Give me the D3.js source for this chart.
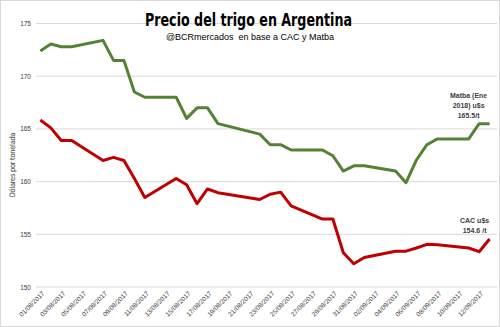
<!DOCTYPE html>
<html><head><meta charset="utf-8">
<script src="https://cdn.jsdelivr.net/npm/d3@7"></script>
<style>body{margin:0;background:#fff}svg{display:block}</style>
</head><body>
<script>
const dates = ["01/08/2017","02/08/2017","03/08/2017","04/08/2017","07/08/2017","08/08/2017","09/08/2017","10/08/2017","11/08/2017","14/08/2017","15/08/2017","16/08/2017","17/08/2017","18/08/2017","22/08/2017","23/08/2017","24/08/2017","25/08/2017","28/08/2017","29/08/2017","30/08/2017","31/08/2017","01/09/2017","04/09/2017","05/09/2017","06/09/2017","07/09/2017","08/09/2017","11/09/2017","12/09/2017","13/09/2017"];
const matba = [172.4,173.05,172.8,172.8,173.4,171.5,171.5,168.5,168.0,168.0,166.0,167.0,167.0,165.5,164.5,163.5,163.5,163.0,163.0,162.45,161.0,161.5,161.5,161.0,159.9,162.05,163.5,164.05,164.05,165.5,165.5];
const cac = [165.85,165.1,163.9,163.9,162.0,162.3,162.0,160.3,158.5,160.3,159.7,157.9,159.3,158.95,158.3,158.8,159.0,157.7,156.45,156.45,153.25,152.2,152.8,153.4,153.4,153.7,154.05,154.0,153.7,153.35,154.55];
const yTicks = [150,155,160,165,170,175];
const xTickLabels = ["01/08/2017","03/08/2017","05/08/2017","07/08/2017","09/08/2017","11/08/2017","13/08/2017","15/08/2017","17/08/2017","19/08/2017","21/08/2017","23/08/2017","25/08/2017","27/08/2017","29/08/2017","31/08/2017","02/09/2017","04/09/2017","06/09/2017","08/09/2017","10/09/2017","12/09/2017"];
const title = "Precio del trigo en Argentina";
const subtitle = "@BCRmercados  en base a CAC y Matba";
const yTitle = "Dólares por tonelada";
const matbaLabel = ["Matba (Ene","2018) u$s","165.5/t"];
const cacLabel = ["CAC u$s","154.6 /t"];

const W=500,H=327;
const parse = d3.timeParse("%d/%m/%Y");
const x = d3.scaleTime()
  .domain([d3.timeHour.offset(parse("01/08/2017"),-10), d3.timeHour.offset(parse("13/09/2017"),17)])
  .range([36,497]);
const y = d3.scaleLinear().domain([150,175]).range([287,23.5]);

const svg = d3.select("body").append("svg").attr("width",W).attr("height",H);
svg.append("rect").attr("x",0.5).attr("y",0.5).attr("width",W-1).attr("height",H-1)
  .attr("fill","#fff").attr("stroke","#d9d9d9");

// gridlines
svg.append("g").selectAll("line").data(yTicks).join("line")
  .attr("x1",36).attr("x2",497).attr("y1",d=>y(d)).attr("y2",d=>y(d))
  .attr("stroke","#d9d9d9").attr("stroke-width",1);

// y axis labels
const yAxis = d3.axisLeft(y).tickValues(yTicks).tickSize(0).tickPadding(0);
const gy = svg.append("g").attr("transform","translate(31,0)").call(yAxis);
gy.select(".domain").remove();
gy.selectAll("text").attr("font-family","Liberation Sans, Arial, sans-serif").attr("font-size",6.5).attr("fill","#404040");

// x axis labels
const xAxis = d3.axisBottom(x).tickValues(xTickLabels.map(parse)).tickSize(0).tickFormat(d3.timeFormat("%d/%m/%Y"));
const gx = svg.append("g").attr("transform","translate(0,291)").call(xAxis);
gx.select(".domain").remove();
gx.selectAll("text").attr("font-family","Liberation Sans, Arial, sans-serif").attr("font-size",6.5).attr("fill","#404040")
  .attr("text-anchor","end").attr("dy",0).attr("y",0)
  .attr("transform","translate(4,3) rotate(-45)");

// y title
svg.append("text").attr("transform","translate(15,165) rotate(-90)")
  .attr("text-anchor","middle").attr("font-family","Liberation Sans Narrow, DejaVu Sans Condensed, sans-serif")
  .attr("font-size",7.5).attr("fill","#404040").attr("letter-spacing",-0.3).text(yTitle);

const line = d3.line().x((d,i)=>x(parse(dates[i]))).y(d=>y(d)).curve(d3.curveLinear);
svg.append("path").datum(matba).attr("d",line).attr("fill","none").attr("stroke","#548235").attr("stroke-width",3).attr("stroke-linejoin","round");
svg.append("path").datum(cac).attr("d",line).attr("fill","none").attr("stroke","#c00000").attr("stroke-width",3).attr("stroke-linejoin","round");

// title
svg.append("text").attr("x",248.5).attr("y",26).attr("text-anchor","middle")
  .attr("font-family","Liberation Sans Narrow, DejaVu Sans Condensed, sans-serif").attr("font-weight","bold")
  .attr("font-size",18).attr("fill","#000")
  .attr("textLength",207).attr("lengthAdjust","spacingAndGlyphs").text(title);
svg.append("text").attr("x",250).attr("y",40).attr("text-anchor","middle")
  .attr("font-family","Liberation Sans, Arial, sans-serif").attr("font-size",9).attr("fill","#000").attr("xml:space","preserve").text(subtitle);

// annotations
const lastDate = parse(dates[dates.length-1]);
svg.append("g").selectAll("text").data(matbaLabel).join("text")
  .attr("x",x(lastDate)-21).attr("y",(d,i)=>y(matba[matba.length-1])-26+i*10)
  .attr("text-anchor","middle").attr("font-family","Liberation Sans, Arial, sans-serif").attr("font-weight","bold")
  .attr("font-size",7).attr("fill","#404040").text(d=>d);
svg.append("g").selectAll("text").data(cacLabel).join("text")
  .attr("x",x(lastDate)-15).attr("y",(d,i)=>y(cac[cac.length-1])-16+i*10)
  .attr("text-anchor","middle").attr("font-family","Liberation Sans, Arial, sans-serif").attr("font-weight","bold")
  .attr("font-size",7).attr("fill","#404040").text(d=>d);
</script>
</body></html>
